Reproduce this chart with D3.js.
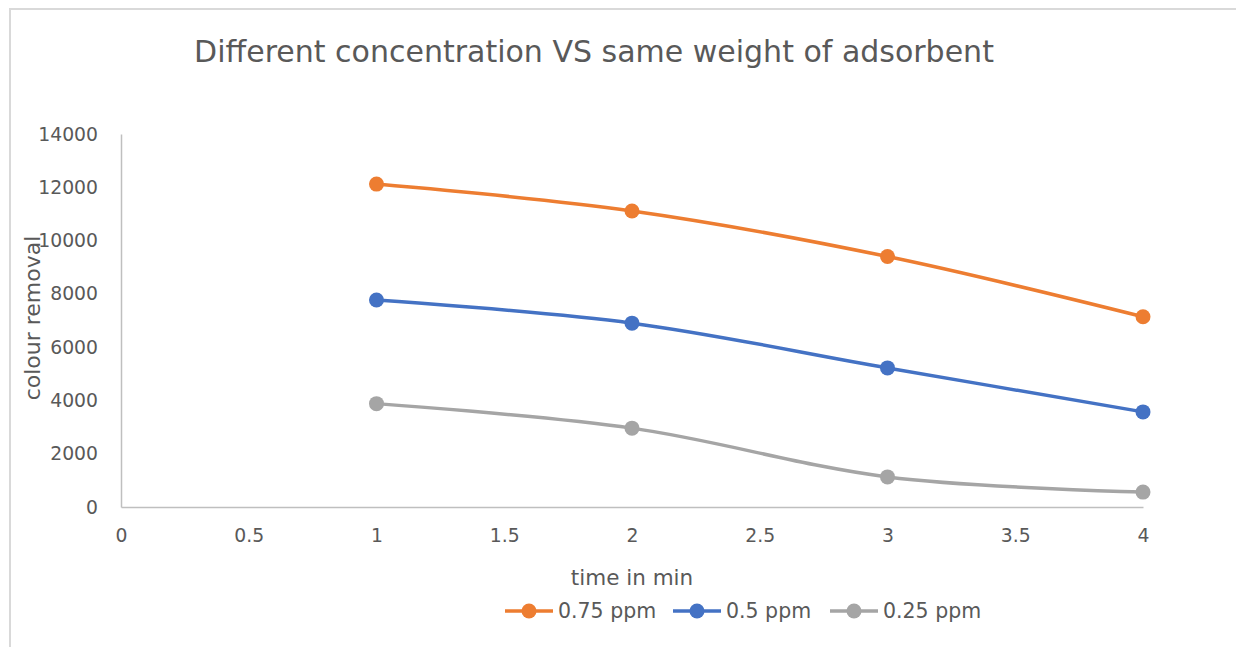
<!DOCTYPE html>
<html>
<head>
<meta charset="utf-8">
<script src="https://cdn.jsdelivr.net/npm/d3@7"></script>
<style>
  body { margin: 0; background: #fff; }
  text { font-family: "DejaVu Sans", sans-serif; fill: #595959; }
</style>
</head>
<body>
<div id="content"></div>
<script>
const times = [1, 2, 3, 4];
const seriesNames = ["0.75 ppm", "0.5 ppm", "0.25 ppm"];
const conc075 = [12120, 11110, 9400, 7140];
const conc050 = [7770, 6900, 5220, 3570];
const conc025 = [3880, 2960, 1130, 560];
const colours = ["#ed7d31", "#4472c4", "#a5a5a5"];
const xTicks = [0, 0.5, 1, 1.5, 2, 2.5, 3, 3.5, 4];
const yTicks = [0, 2000, 4000, 6000, 8000, 10000, 12000, 14000];

const W = 1236, H = 647;
const svg = d3.select("#content").append("svg")
  .attr("width", W).attr("height", H);

// chart frame (only top and left edge visible)
svg.append("path")
  .attr("d", "M10,647 L10,9 L1236,9")
  .attr("fill", "none")
  .attr("stroke", "#d9d9d9")
  .attr("stroke-width", 2);

const x = d3.scaleLinear().domain([0, 4]).range([121, 1143]);
const y = d3.scaleLinear().domain([0, 14000]).range([507, 134]);

svg.append("text")
  .attr("x", 594).attr("y", 62)
  .attr("text-anchor", "middle")
  .attr("font-size", 30)
  .text("Different concentration VS same weight of adsorbent");

const xAxis = svg.append("g")
  .attr("transform", "translate(0,507)")
  .call(d3.axisBottom(x).tickValues(xTicks).tickSize(0).tickPadding(22)
    .tickFormat(d3.format("")));
const yAxis = svg.append("g")
  .attr("transform", "translate(121,0)")
  .call(d3.axisLeft(y).tickValues(yTicks).tickSize(0).tickPadding(23)
    .tickFormat(d3.format("")));

[xAxis, yAxis].forEach(a => {
  a.select(".domain").attr("stroke", "#bfbfbf").attr("stroke-width", 1.5);
  a.selectAll("text").attr("font-size", 18.8).attr("font-family", null);
});

svg.append("text")
  .attr("x", 632).attr("y", 585)
  .attr("text-anchor", "middle")
  .attr("font-size", 21.5)
  .text("time in min");

svg.append("text")
  .attr("transform", "translate(40,318) rotate(-90)")
  .attr("text-anchor", "middle")
  .attr("font-size", 22)
  .text("colour removal");

const allSeries = [conc075, conc050, conc025];
const line = d3.line()
  .x((d, i) => x(times[i]))
  .y(d => y(d))
  .curve(d3.curveCatmullRom.alpha(0.5));

allSeries.forEach((vals, k) => {
  svg.append("path")
    .datum(vals)
    .attr("d", line)
    .attr("fill", "none")
    .attr("stroke", colours[k])
    .attr("stroke-width", 3.5);
  svg.selectAll(null)
    .data(vals)
    .enter()
    .append("circle")
    .attr("cx", (d, i) => x(times[i]))
    .attr("cy", d => y(d))
    .attr("r", 7.5)
    .attr("fill", colours[k]);
});

// legend
const legendX = [505, 673, 830];
seriesNames.forEach((name, k) => {
  const g = svg.append("g").attr("transform", `translate(${legendX[k]},611)`);
  g.append("line")
    .attr("x1", 0).attr("x2", 48)
    .attr("stroke", colours[k]).attr("stroke-width", 3.5);
  g.append("circle").attr("cx", 24).attr("r", 7.5).attr("fill", colours[k]);
  g.append("text")
    .attr("x", 53).attr("y", 7)
    .attr("font-size", 20.5)
    .text(name);
});
</script>
</body>
</html>
